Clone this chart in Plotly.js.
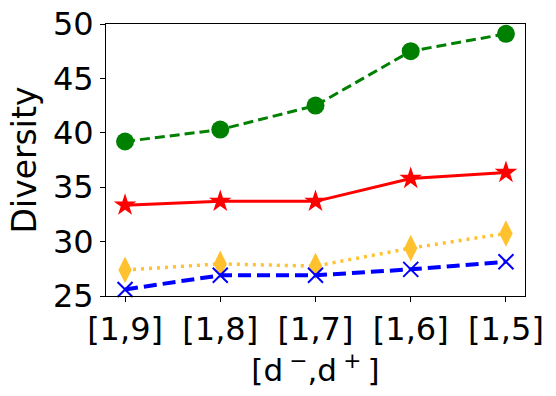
<!DOCTYPE html>
<html>
<head>
<meta charset="utf-8">
<script src="https://cdn.plot.ly/plotly-3.0.1.min.js"></script>
<style>
  body { margin: 0; background: #fff; }
  #chart { width: 556px; height: 396px; }
</style>
</head>
<body>
<div id="chart"></div>
<script>
const categories = ["[1,9]", "[1,8]", "[1,7]", "[1,6]", "[1,5]"];
const greenVals = [39.2, 40.3, 42.5, 47.5, 49.1];
const redVals = [33.35, 33.7, 33.7, 35.8, 36.35];
const orangeVals = [27.4, 27.95, 27.75, 29.4, 30.75];
const blueVals = [25.6, 26.9, 26.9, 27.45, 28.15];
const yTicks = [25, 30, 35, 40, 45, 50];

// one line+marker trace per series
let series = (yv, color, dash, lw, symbol, msize, mline) => ({
  x: categories.map((c, i) => i),
  y: yv,
  mode: "lines+markers",
  line: { color: color, dash: dash, width: lw },
  marker: {
    symbol: symbol,
    size: msize,
    color: color,
    line: { color: color, width: mline },
  },
  cliponaxis: false,
});

const traces = [
  series(greenVals, "#008000", "10px,5px", 3, "circle", 18, 0),
  series(redVals, "#ff0000", "solid", 3, "star", 17, 0),
  series(orangeVals, "#ffc12e", "3px,5px", 3.5, "diamond-tall", 19, 0),
  series(blueVals, "#0000ff", "13px,6px", 4, "x-thin-open", 15, 2),
];

const layout = {
  width: 556,
  height: 396,
  showlegend: false,
  paper_bgcolor: "#fff",
  plot_bgcolor: "#fff",
  font: { family: "DejaVu Sans", size: 32, color: "#000" },
  margin: { l: 106, r: 31, t: 24, b: 100, pad: 0 },
  xaxis: {
    range: [-0.2, 4.2],
    tickvals: categories.map((c, i) => i),
    ticktext: categories,
    ticks: "outside",
    ticklen: 5,
    tickwidth: 1,
    tickcolor: "#000",
    showgrid: false,
    zeroline: false,
    showline: true,
    linecolor: "#000",
    linewidth: 1,
    mirror: true,
    tickfont: { size: 32 },
    title: {
      text: "[d\u2009<sup>\u2212</sup>,d\u2009<sup>+</sup>\u2009]",
      font: { size: 31 },
      standoff: 4,
    },
  },
  yaxis: {
    range: [25, 50],
    tickvals: yTicks,
    ticks: "outside",
    ticklen: 5,
    tickwidth: 1,
    tickcolor: "#000",
    showgrid: false,
    zeroline: false,
    showline: true,
    linecolor: "#000",
    linewidth: 1,
    mirror: true,
    tickfont: { size: 32 },
    title: { text: "Diversity", font: { size: 33 }, standoff: 6 },
  },
};

Plotly.newPlot("chart", traces, layout, { displayModeBar: false, staticPlot: true });
</script>
</body>
</html>
